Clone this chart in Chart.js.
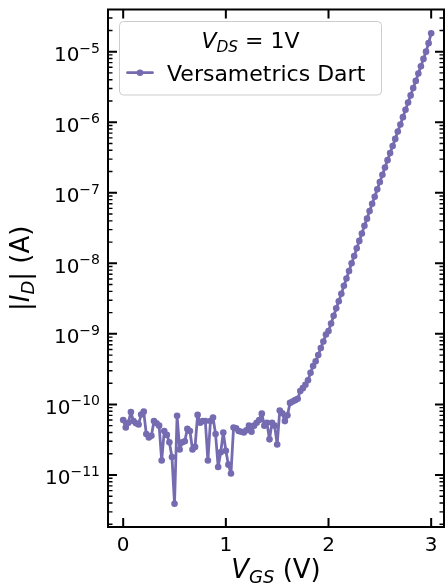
<!DOCTYPE html>
<html>
<head>
<meta charset="utf-8">
<title>Id-Vgs</title>
<script src="https://cdn.jsdelivr.net/npm/chart.js@4.4.1/dist/chart.umd.min.js"></script>
<style>
    html, body { margin: 0; padding: 0; background: #ffffff; }
    #wrap { width: 448px; height: 587px; }
</style>
</head>
<body>
<div id="wrap"><canvas id="chart" width="448" height="587"></canvas></div>
<script>
// gate voltage sweep (V)
const vgs = [
    0, 0.025, 0.05, 0.075, 0.1, 0.125, 0.15, 0.175, 0.2, 0.225,
    0.25, 0.275, 0.3, 0.325, 0.35, 0.375, 0.4, 0.425, 0.45, 0.475,
    0.5, 0.525, 0.55, 0.575, 0.6, 0.625, 0.65, 0.675, 0.7, 0.725,
    0.75, 0.775, 0.8, 0.825, 0.85, 0.875, 0.9, 0.925, 0.95, 0.975,
    1, 1.025, 1.05, 1.075, 1.1, 1.125, 1.15, 1.175, 1.2, 1.225,
    1.25, 1.275, 1.3, 1.325, 1.35, 1.375, 1.4, 1.425, 1.45, 1.475,
    1.5, 1.525, 1.55, 1.575, 1.6, 1.625, 1.65, 1.675, 1.7, 1.725,
    1.75, 1.775, 1.8, 1.825, 1.85, 1.875, 1.9, 1.925, 1.95, 1.975,
    2, 2.025, 2.05, 2.075, 2.1, 2.125, 2.15, 2.175, 2.2, 2.225,
    2.25, 2.275, 2.3, 2.325, 2.35, 2.375, 2.4, 2.425, 2.45, 2.475,
    2.5, 2.525, 2.55, 2.575, 2.6, 2.625, 2.65, 2.675, 2.7, 2.725,
    2.75, 2.775, 2.8, 2.825, 2.85, 2.875, 2.9, 2.925, 2.95, 2.975,
    3
];

// |Id| (A)
const idAbs = [
    6.0e-11, 4.7e-11, 5.5e-11, 7.8e-11, 5.8e-11, 5.4e-11, 5.2e-11, 7.2e-11, 7.9e-11, 3.8e-11,
    3.4e-11, 3.6e-11, 5.8e-11, 5.4e-11, 5.0e-11, 1.6e-11, 4.2e-11, 3.7e-11, 2.9e-11, 1.8e-11,
    3.9e-12, 6.9e-11, 2.3e-11, 2.9e-11, 3.0e-11, 4.5e-11, 4.2e-11, 2.3e-11, 2.5e-11, 7.1e-11,
    5.5e-11, 5.8e-11, 5.8e-11, 1.6e-11, 5.8e-11, 6.5e-11, 3.8e-11, 1.3e-11, 2.1e-11, 4.0e-11,
    2.2e-11, 1.4e-11, 1.05e-11, 4.7e-11, 4.6e-11, 4.2e-11, 4.1e-11, 4.0e-11, 4.3e-11, 5.0e-11,
    4.1e-11, 5.0e-11, 5.5e-11, 6.0e-11, 7.4e-11, 5.0e-11, 5.5e-11, 3.2e-11, 5.5e-11, 5.0e-11,
    2.7e-11, 8.2e-11, 7.5e-11, 5.8e-11, 7.0e-11, 1.05e-10, 1.1e-10, 1.15e-10, 1.2e-10, 1.55e-10,
    1.7e-10, 1.9e-10, 2.2e-10, 2.8e-10, 3.5e-10, 4.1e-10, 5.0e-10, 6.3e-10, 7.8e-10, 9.8e-10,
    1.1e-9, 1.4e-9, 1.8e-9, 2.3e-9, 2.9e-9, 3.7e-9, 4.8e-9, 6.1e-9, 7.8e-9, 1.0e-8,
    1.27e-8, 1.63e-8, 2.08e-8, 2.65e-8, 3.4e-8, 4.3e-8, 5.5e-8, 7.0e-8, 8.8e-8, 1.12e-7,
    1.42e-7, 1.8e-7, 2.28e-7, 2.9e-7, 3.65e-7, 4.6e-7, 5.8e-7, 7.4e-7, 9.3e-7, 1.18e-6,
    1.5e-6, 1.9e-6, 2.4e-6, 3.05e-6, 3.85e-6, 4.9e-6, 6.2e-6, 7.9e-6, 1.0e-5, 1.32e-5,
    1.82e-5
];

const xTicks = [0, 1, 2, 3];
const yDecades = [-11, -10, -9, -8, -7, -6, -5];
const seriesLabel = "Versametrics Dart";

const PURPLE = "#756bb1";
const FONT = '"DejaVu Sans", sans-serif';

// draws text pieces one after another; each piece: [text, size, italic, dy]
function runWidth(ctx, parts) {
    let w = 0;
    parts.forEach((p) => {
        ctx.font = (p[2] ? "italic " : "") + p[1] + "px " + FONT;
        w += ctx.measureText(p[0]).width;
    });
    return w;
}
function drawRun(ctx, parts, x, y) {
    parts.forEach((p) => {
        ctx.font = (p[2] ? "italic " : "") + p[1] + "px " + FONT;
        ctx.fillText(p[0], x, y + (p[3] || 0));
        x += ctx.measureText(p[0]).width;
    });
}

const axesPlugin = {
    id: "mplAxes",
    afterDatasetsDraw(chart) {
        const ctx = chart.ctx;
        const area = chart.chartArea;
        const xs = chart.scales.x;
        const ys = chart.scales.y;
        ctx.save();
        ctx.strokeStyle = "#000";
        ctx.fillStyle = "#000";
        ctx.textBaseline = "alphabetic";

        // inward ticks, x (top + bottom)
        ctx.lineWidth = 2;
        xTicks.forEach((v) => {
            const px = xs.getPixelForValue(v);
            ctx.beginPath();
            ctx.moveTo(px, area.bottom); ctx.lineTo(px, area.bottom - 9);
            ctx.moveTo(px, area.top); ctx.lineTo(px, area.top + 9);
            ctx.stroke();
        });

        // inward ticks, y (left + right), majors and 2..9 minors
        const lo = Math.log10(ys.min), hi = Math.log10(ys.max);
        for (let d = Math.floor(lo); d <= Math.ceil(hi); d++) {
            for (let m = 1; m <= 9; m++) {
                const v = m * Math.pow(10, d);
                if (v < ys.min || v > ys.max) continue;
                const py = ys.getPixelForValue(v);
                const len = m === 1 ? 9 : 4.5;
                ctx.lineWidth = m === 1 ? 2 : 1.4;
                ctx.beginPath();
                ctx.moveTo(area.left, py); ctx.lineTo(area.left + len, py);
                ctx.moveTo(area.right, py); ctx.lineTo(area.right - len, py);
                ctx.stroke();
            }
        }

        // frame
        ctx.lineWidth = 2;
        ctx.strokeRect(area.left, area.top, area.right - area.left, area.bottom - area.top);

        // x tick labels
        ctx.textAlign = "center";
        ctx.font = "20px " + FONT;
        xTicks.forEach((v) => {
            ctx.fillText(String(v), xs.getPixelForValue(v), 551);
        });

        // y tick labels 10^n
        ctx.textAlign = "left";
        yDecades.forEach((e) => {
            const py = ys.getPixelForValue(Math.pow(10, e));
            const parts = [["10", 20, false, 9.3], ["\u2212" + Math.abs(e), 14, false, 1]];
            const w = runWidth(ctx, parts);
            drawRun(ctx, parts, 100 - w, py);
        });

        // x title
        const xt = [["V", 26, true, 0], ["GS", 18, true, 5], [" (V)", 26, false, 0]];
        const xcen = (area.left + area.right) / 2;
        drawRun(ctx, xt, xcen - runWidth(ctx, xt) / 2, 578);

        // y title (rotated)
        const yt = [["|", 26, false, 0], ["I", 26, true, 0], ["D", 18, true, 5], ["|", 26, false, 0], [" (A)", 26, false, 0]];
        ctx.save();
        ctx.translate(29, (area.top + area.bottom) / 2);
        ctx.rotate(-Math.PI / 2);
        drawRun(ctx, yt, -runWidth(ctx, yt) / 2, 0);
        ctx.restore();

        // legend box
        const bx = 119.5, by = 21.5, bw = 262, bh = 73.5, r = 4;
        ctx.beginPath();
        ctx.moveTo(bx + r, by);
        ctx.arcTo(bx + bw, by, bx + bw, by + bh, r);
        ctx.arcTo(bx + bw, by + bh, bx, by + bh, r);
        ctx.arcTo(bx, by + bh, bx, by, r);
        ctx.arcTo(bx, by, bx + bw, by, r);
        ctx.closePath();
        ctx.fillStyle = "rgba(255,255,255,0.8)";
        ctx.fill();
        ctx.strokeStyle = "#cccccc";
        ctx.lineWidth = 1;
        ctx.stroke();

        ctx.fillStyle = "#000";
        const lt = [["V", 22, true, 0], ["DS", 15.4, true, 4], [" = 1V", 22, false, 0]];
        drawRun(ctx, lt, bx + bw / 2 - runWidth(ctx, lt) / 2, 47.7);

        const ds = chart.data.datasets[0];
        ctx.strokeStyle = ds.borderColor;
        ctx.lineWidth = ds.borderWidth;
        ctx.lineCap = "round";
        ctx.beginPath();
        ctx.moveTo(127.5, 72.7); ctx.lineTo(152.5, 72.7);
        ctx.stroke();
        ctx.fillStyle = ds.pointBackgroundColor;
        ctx.beginPath();
        ctx.arc(140, 72.7, ds.pointRadius, 0, Math.PI * 2);
        ctx.fill();

        ctx.fillStyle = "#000";
        ctx.font = "22px " + FONT;
        ctx.fillText(chart.data.datasets[0].label, 167, 81);

        ctx.restore();
    },
};

const ctx = document.getElementById("chart").getContext("2d");
new Chart(ctx, {
    type: "line",
    data: {
        datasets: [
            {
                label: seriesLabel,
                data: vgs.map((v, i) => ({ x: v, y: idAbs[i] })),
                borderColor: PURPLE,
                backgroundColor: PURPLE,
                pointBackgroundColor: PURPLE,
                pointBorderColor: PURPLE,
                pointBorderWidth: 0,
                pointRadius: 3.3,
                borderWidth: 2.8,
                borderJoinStyle: "round",
                borderCapStyle: "round",
                tension: 0,
            },
        ],
    },
    options: {
        responsive: false,
        animation: false,
        devicePixelRatio: 1,
        layout: { padding: { left: 108, right: 1, top: 9.5, bottom: 60 } },
        plugins: {
            legend: { display: false },
            tooltip: { enabled: false },
        },
        scales: {
            x: { type: "linear", min: -0.148, max: 3.125, display: false },
            y: { type: "logarithmic", min: 1.83e-12, max: 3.96e-5, display: false },
        },
    },
    plugins: [axesPlugin],
});
</script>
</body>
</html>
